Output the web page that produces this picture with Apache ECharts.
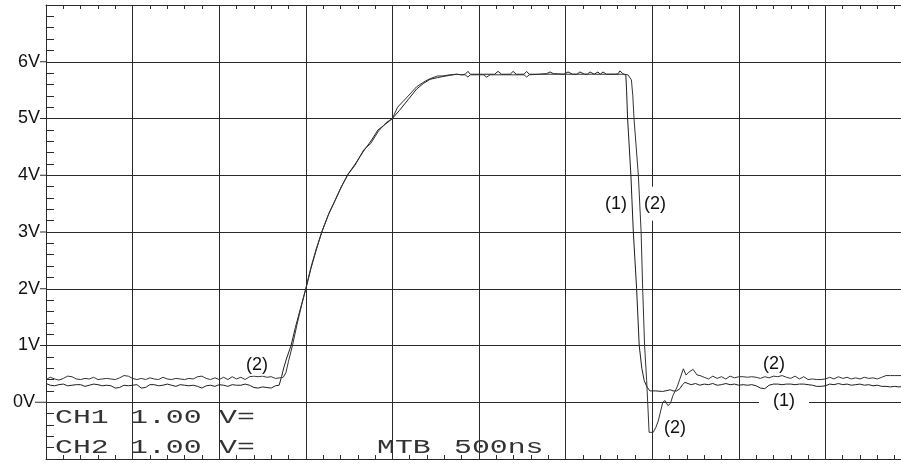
<!DOCTYPE html>
<html>
<head>
<meta charset="utf-8">
<script src="https://cdn.jsdelivr.net/npm/echarts@6.0.0/dist/echarts.min.js"></script>
<style>
  html, body { margin: 0; padding: 0; background: #fff; }
  #scope { width: 901px; height: 463px; }
</style>
</head>
<body>
<div id="scope"></div>
<script>
// Time base: 500 ns per division, 10 divisions; vertical: 1 V per division.
const timeMin = 0, timeMax = 5000, timeDiv = 500;
const voltMin = -1, voltMax = 7, voltDiv = 1;
const voltLabels = [0, 1, 2, 3, 4, 5, 6];

// Channel 1 samples: [time in ns, volts]
const ch1Trace = [
  [0,0.33],[25,0.30],[50,0.29],[75,0.31],[100,0.32],[125,0.29],[150,0.30],[175,0.31],[200,0.31],[225,0.28],
  [250,0.30],[275,0.32],[300,0.31],[325,0.29],[350,0.30],[375,0.29],[400,0.25],[425,0.26],[450,0.30],[475,0.29],
  [500,0.30],[525,0.31],[550,0.25],[575,0.26],[600,0.31],[625,0.31],[650,0.29],[675,0.30],[700,0.32],[725,0.30],
  [750,0.28],[775,0.31],[800,0.30],[825,0.29],[850,0.30],[875,0.28],[900,0.25],[925,0.29],[950,0.30],[975,0.28],
  [1000,0.31],[1025,0.30],[1050,0.28],[1075,0.31],[1100,0.30],[1125,0.30],[1150,0.32],[1175,0.30],[1200,0.26],[1225,0.25],
  [1250,0.27],[1275,0.26],[1300,0.25],[1325,0.29],[1346,0.30],
  [1360,0.45],[1374,0.62],[1390,0.78],[1415,1.0],[1440,1.32],[1470,1.66],[1500,2.0],[1530,2.36],[1560,2.68],[1592,3.0],
  [1630,3.3],[1669,3.56],[1700,3.76],[1740,4.0],[1790,4.22],[1830,4.41],[1880,4.62],[1917,4.8],[1960,4.9],[2000,5.0],
  [2040,5.14],[2090,5.33],[2140,5.52],[2180,5.62],[2217,5.69],[2260,5.72],[2292,5.74],[2330,5.76],[2371,5.78],[2400,5.77],
  [2420,5.78],[2436,5.83],[2450,5.78],[2520,5.78],[2590,5.78],[2610,5.83],[2630,5.78],[2680,5.78],[2697,5.83],[2715,5.78],
  [2760,5.78],[2775,5.83],[2790,5.78],[2850,5.78],[2890,5.79],[2910,5.82],[2930,5.79],[2990,5.78],[3014,5.82],[3040,5.78],
  [3065,5.78],[3083,5.82],[3110,5.78],[3125,5.78],[3141,5.82],[3165,5.78],[3175,5.78],[3187,5.82],[3200,5.78],[3216,5.82],
  [3235,5.78],[3290,5.78],[3303,5.79],[3314,5.84],[3330,5.79],[3348,5.76],
  [3352,5.5],[3358,5.0],[3377,4.0],[3391,3.0],[3410,2.0],[3425,1.0],[3440,0.6],[3454,0.38],[3470,0.27],[3487,0.2],
  [3520,0.2],[3560,0.19],[3591,0.21],[3605,0.22],[3620,0.2],[3641,0.2],[3660,0.24],[3675,0.31],[3689,0.35],[3700,0.33],
  [3725,0.31],[3750,0.33],[3775,0.30],[3800,0.32],[3825,0.31],[3850,0.33],[3875,0.30],[3900,0.31],[3925,0.33],[3950,0.31],
  [3975,0.32],[4000,0.30],[4025,0.31],[4050,0.30],[4075,0.31],[4100,0.29],[4125,0.25],[4150,0.24],[4175,0.30],[4200,0.32],
  [4225,0.32],[4250,0.31],[4275,0.32],[4300,0.32],[4325,0.31],[4350,0.32],[4375,0.32],[4400,0.31],[4425,0.30],[4450,0.28],
  [4475,0.28],[4500,0.29],[4525,0.32],[4550,0.31],[4575,0.33],[4600,0.31],[4625,0.32],[4650,0.30],[4675,0.31],[4700,0.32],
  [4725,0.30],[4750,0.31],[4775,0.29],[4800,0.30],[4825,0.28],[4850,0.28],[4875,0.27],[4900,0.28],[4925,0.27],[4950,0.28],
  [4975,0.27],[5000,0.28]
];

// Channel 2 samples: [time in ns, volts]
const ch2Trace = [
  [0,0.40],[25,0.44],[50,0.41],[75,0.39],[100,0.42],[125,0.46],[150,0.45],[175,0.41],[200,0.40],[225,0.42],
  [250,0.41],[275,0.44],[300,0.40],[325,0.41],[350,0.42],[375,0.41],[400,0.40],[425,0.43],[450,0.47],[475,0.46],
  [500,0.42],[525,0.40],[550,0.42],[575,0.40],[600,0.43],[625,0.41],[650,0.40],[675,0.44],[700,0.41],[725,0.40],
  [750,0.42],[775,0.41],[800,0.40],[825,0.42],[850,0.41],[875,0.45],[900,0.46],[925,0.42],[950,0.40],[975,0.43],
  [1000,0.40],[1025,0.44],[1050,0.40],[1075,0.45],[1100,0.41],[1125,0.44],[1150,0.40],[1175,0.45],[1200,0.46],[1225,0.45],
  [1250,0.46],[1275,0.44],[1300,0.45],[1325,0.42],[1350,0.43],[1370,0.44],
  [1385,0.52],[1400,0.72],[1423,1.0],[1450,1.38],[1475,1.7],[1500,2.0],[1530,2.38],[1560,2.7],[1595,3.02],[1635,3.34],
  [1669,3.55],[1705,3.8],[1745,4.02],[1785,4.18],[1835,4.45],[1875,4.56],[1920,4.78],[1965,4.93],[2000,5.0],[2030,5.2],
  [2080,5.36],[2140,5.56],[2190,5.66],[2217,5.7],[2260,5.75],[2292,5.75],[2330,5.77],[2371,5.78],[2400,5.77],[2420,5.77],
  [2436,5.73],[2450,5.77],[2525,5.77],[2544,5.73],[2565,5.77],[2640,5.77],[2700,5.77],[2760,5.77],[2775,5.73],[2790,5.77],
  [2850,5.78],[2960,5.78],[3050,5.78],[3150,5.78],[3250,5.78],[3340,5.78],[3360,5.77],[3370,5.74],[3380,5.68],[3388,5.4],
  [3395,5.0],[3420,4.0],[3436,3.0],[3445,2.0],[3456,1.0],[3468,0.38],[3474,0.0],[3482,-0.53],[3506,-0.53],[3520,-0.45],
  [3535,-0.33],[3561,0.0],[3574,0.03],[3591,-0.06],[3605,-0.02],[3620,0.12],[3644,0.27],[3680,0.59],[3695,0.48],[3712,0.53],
  [3736,0.58],[3759,0.48],[3776,0.47],[3800,0.44],[3825,0.41],[3850,0.46],[3875,0.42],[3900,0.45],[3925,0.41],[3950,0.46],
  [3975,0.43],[4000,0.45],[4025,0.45],[4050,0.44],[4075,0.45],[4100,0.44],[4125,0.42],[4150,0.45],[4175,0.43],[4200,0.46],
  [4225,0.45],[4250,0.47],[4275,0.44],[4300,0.42],[4325,0.46],[4350,0.41],[4375,0.45],[4400,0.40],[4425,0.41],[4450,0.40],
  [4475,0.40],[4500,0.41],[4525,0.44],[4550,0.41],[4575,0.45],[4600,0.42],[4625,0.44],[4650,0.41],[4675,0.43],[4700,0.41],
  [4725,0.44],[4750,0.42],[4775,0.43],[4800,0.41],[4825,0.44],[4850,0.47],[4875,0.47],[4900,0.47],[4925,0.47],[4950,0.47],
  [4975,0.47],[5000,0.47]
];

// Trace identifiers placed next to the waveforms, in [time, volts]
const traceTags = [
  { name: '(2)', coord: [1218, 0.65], pad: [1, 2] },
  { name: '(1)', coord: [3291, 3.5], pad: [1, 2] },
  { name: '(2)', coord: [3516, 3.5], pad: [8, 2] },
  { name: '(2)', coord: [3632, -0.46], pad: [1, 2] },
  { name: '(2)', coord: [4203, 0.68], pad: [1, 2] },
  { name: '(1)', coord: [4261, 0.03], pad: [0, 14] }
];

// Instrument readout lines
const readoutRows = [
  ['CH1', '1.00', 'V='],
  ['CH2', '1.00', 'V=']
];
const timebaseText = ['MTB', '500ns'];

const ink = '#2a2a2a';
const labelFont = '"Liberation Sans", Arial, sans-serif';
const monoFont = '"Liberation Mono", "DejaVu Sans Mono", monospace';

const chart = echarts.init(document.getElementById('scope'), null, { renderer: 'canvas' });

function readoutText(str, x, y) {
  return {
    type: 'text', x: x, y: y, scaleX: 1.42, z: 100,
    style: { text: str, font: '21px ' + monoFont, fill: '#333', textVerticalAlign: 'middle' }
  };
}

const graphics = [];
readoutRows.forEach(function (row, i) {
  const y = 417 + i * 30;
  graphics.push(readoutText(row[0], 55, y));
  graphics.push(readoutText(row[1], 130, y));
  graphics.push(readoutText(row[2], 219, y));
});
graphics.push(readoutText(timebaseText[0], 377, 447));
graphics.push(readoutText(timebaseText[1], 454, 447));

const timeAxisBase = {
  type: 'value', min: timeMin, max: timeMax, interval: timeDiv,
  axisLine: { show: true, onZero: false, lineStyle: { color: ink, width: 1 } },
  axisTick: { show: true, inside: true, length: 4, lineStyle: { color: ink } },
  minorTick: { show: true, splitNumber: 5, length: 4, lineStyle: { color: ink } },
  axisLabel: { show: false },
  minorSplitLine: { show: false }
};

const option = {
  animation: false,
  backgroundColor: '#fff',
  // the tenth division runs past the right edge of the screen
  grid: { left: 46, width: 866, top: 5, bottom: 4, containLabel: false, outerBoundsMode: 'none' },
  xAxis: [
    Object.assign({}, timeAxisBase, {
      position: 'bottom',
      splitLine: { show: true, lineStyle: { color: ink, width: 1 } }
    }),
    Object.assign({}, timeAxisBase, {
      position: 'top',
      splitLine: { show: false }
    })
  ],
  yAxis: [
    {
      type: 'value', min: voltMin, max: voltMax, interval: voltDiv, position: 'left',
      axisLine: { show: true, onZero: false, lineStyle: { color: ink, width: 1 } },
      axisTick: { show: false },
      splitLine: { show: true, lineStyle: { color: ink, width: 1 } },
      axisLabel: {
        show: true, margin: 0, align: 'right',
        formatter: function (v) {
          if (voltLabels.indexOf(v) < 0) return '';
          return v === 0 ? '{t|0V}{z| }' : '{t|' + v + 'V}{d| }';
        },
        rich: {
          t: { fontFamily: labelFont, fontSize: 18, color: '#111', verticalAlign: 'middle' },
          d: { width: 6, height: 1, backgroundColor: ink, fontSize: 1, verticalAlign: 'middle' },
          z: { width: 11, height: 1, backgroundColor: ink, fontSize: 1, verticalAlign: 'middle' }
        }
      }
    },
    {
      type: 'value', min: voltMin, max: voltMax, interval: voltDiv, position: 'left',
      axisLine: { show: false },
      axisTick: { show: true, inside: true, length: 8, lineStyle: { color: ink } },
      minorTick: { show: true, splitNumber: 5, length: 8, lineStyle: { color: ink } },
      splitLine: { show: false },
      axisLabel: { show: false }
    }
  ],
  series: [
    {
      name: 'CH1', type: 'line', data: ch1Trace, showSymbol: false, symbol: 'none',
      lineStyle: { color: '#1e1e1e', width: 1 }, z: 2, clip: true
    },
    {
      name: 'CH2', type: 'line', data: ch2Trace, showSymbol: false, symbol: 'none',
      lineStyle: { color: '#333', width: 1 }, z: 2, clip: true
    },
    {
      name: 'tags', type: 'scatter', data: [], z: 5,
      markPoint: {
        symbol: 'rect', symbolSize: 1,
        itemStyle: { color: 'rgba(0,0,0,0)' },
        label: {
          show: true, position: 'inside', formatter: '{b}',
          fontFamily: labelFont, fontSize: 18, color: '#111',
          backgroundColor: '#fff'
        },
        data: traceTags.map(function (t) {
          return { name: t.name, coord: t.coord, label: { padding: t.pad } };
        })
      }
    }
  ],
  graphic: graphics
};

chart.setOption(option);
</script>
</body>
</html>
